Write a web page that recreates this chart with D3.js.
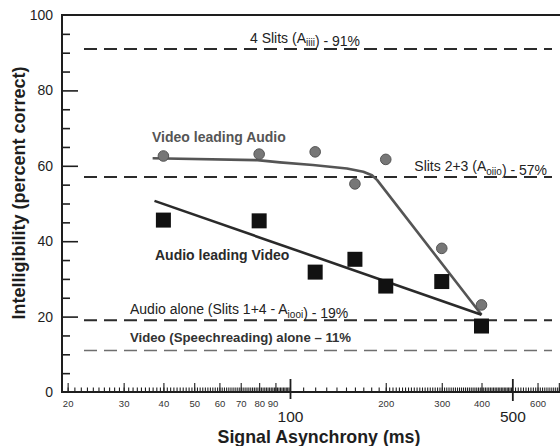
<!DOCTYPE html>
<html>
<head>
<meta charset="utf-8">
<script src="https://cdn.jsdelivr.net/npm/d3@7"></script>
<style>
  html, body { margin: 0; padding: 0; background: #fff; }
  svg { display: block; font-family: "Liberation Sans", Arial, Helvetica, sans-serif; }
</style>
</head>
<body>
<svg id="chart" width="560" height="446"></svg>
<script>
// Asynchrony conditions (ms) and mean intelligibility (% correct)
const asynchronyMs = [40, 80, 120, 160, 200, 300, 400];
const videoLeadingPct = [62.6, 63.1, 63.7, 55.2, 61.7, 38.1, 23.1];
const audioLeadingPct = [45.6, 45.4, 31.8, 35.2, 28.1, 29.3, 17.5];

// Fitted trend for each condition
const videoFitMs  = [37, 79, 93, 118, 151, 170, 181, 188, 400];
const videoFitPct = [62.0, 61.5, 60.9, 60.2, 59.3, 58.4, 57.5, 56.2, 20.5];
const audioFitMs  = [37.5, 400];
const audioFitPct = [50.7, 20.5];

// Baseline (unimodal / slit) reference levels
const refValues = [91, 57, 19, 11];

// Axis ticks
const yMajorTicks = [20, 40, 60, 80, 100];
const yAllTicks = d3.range(5, 100, 5);
const xSmallLabels = [20, 30, 40, 50, 60, 70, 80, 90, 200, 300, 400, 600];
const xBigLabels = [100, 500];
const xMinorTicks = d3.range(20, 100, 1)
  .concat(d3.range(110, 200, 10))
  .concat(d3.range(200, 500, 5))
  .concat(d3.range(510, 710, 10));
const xMediumTicks = [20, 30, 40, 50, 60, 70, 80, 90, 200, 300, 400, 600, 700];

const svg = d3.select("#chart");
const x = d3.scaleLog().domain([19.2, 706]).range([62, 560]);
const y = d3.scaleLinear().domain([0, 100]).range([392, 15]);
const ink = "#1e1e1e";
const font = "'Liberation Sans', Arial, sans-serif";

// ---- Y axis ----
const yMinor = svg.append("g").attr("transform", `translate(${x.range()[0]},0)`)
  .call(d3.axisLeft(y).tickValues(yAllTicks.filter(v => v % 20 !== 0)).tickSize(-8).tickFormat(""));
const yMajor = svg.append("g").attr("transform", `translate(${x.range()[0]},0)`)
  .call(d3.axisLeft(y).tickValues([0].concat(yMajorTicks)).tickSize(-16).tickPadding(9).tickFormat(d3.format("d")));
yMajor.selectAll(".tick line").filter(d => d === 0 || d === 100).remove();
[yMinor, yMajor].forEach(g => {
  g.select(".domain").remove();
  g.selectAll(".tick line").attr("stroke", ink).attr("stroke-width", 1.6);
});
yMajor.selectAll("text").attr("font-size", 14).attr("fill", ink).attr("font-family", font);

// ---- X axis ----
const xAxisY = y(0);
const xMinorG = svg.append("g").attr("transform", `translate(0,${xAxisY})`)
  .call(d3.axisBottom(x).tickValues(xMinorTicks).tickSize(-4.5).tickFormat(""));
const xMedG = svg.append("g").attr("transform", `translate(0,${xAxisY})`)
  .call(d3.axisBottom(x).tickValues(xMediumTicks).tickSize(-9).tickFormat(""));
const xSmallG = svg.append("g").attr("transform", `translate(0,${xAxisY})`)
  .call(d3.axisBottom(x).tickValues(xSmallLabels).tickSize(0).tickPadding(8).tickFormat(d3.format("d")));
const xBigG = svg.append("g").attr("transform", `translate(0,${xAxisY})`)
  .call(d3.axisBottom(x).tickValues(xBigLabels).tickSize(7).tickPadding(12).tickFormat(d3.format("d")));
xBigG.selectAll(".tick line").attr("y1", -13).attr("stroke-width", 1.8);
xBigG.selectAll(".tick").filter(d => d === 500).select("line").attr("y2", 9);
[xMinorG, xMedG, xSmallG, xBigG].forEach(g => {
  g.select(".domain").remove();
  g.selectAll(".tick line").attr("stroke", ink).attr("stroke-width", function() {
    return d3.select(this).attr("stroke-width") || 1.1;
  });
});
xSmallG.selectAll("text").attr("font-size", 9.5).attr("fill", "#333").attr("font-family", font);
xSmallG.selectAll(".tick").filter(d => d === 90).select("text").attr("dx", -3);
xBigG.selectAll("text").attr("font-size", 15.5).attr("fill", ink).attr("font-family", font);

// Frame: left, bottom and top rules
const [x0, x1] = x.range();
svg.append("path")
  .attr("d", `M${x1},${y(100)}H${x0}V${y(0)}H${x1}`)
  .attr("fill", "none").attr("stroke", ink).attr("stroke-width", 2);

// ---- Reference levels ----
const refStyles = [
  { stroke: "#2b2b2b", width: 2, dash: "13,7" },
  { stroke: "#2b2b2b", width: 2, dash: "13,7" },
  { stroke: "#2b2b2b", width: 2, dash: "13,7" },
  { stroke: "#6e6e6e", width: 1.5, dash: "13,7" }
];
svg.append("g").selectAll("line").data(refValues).join("line")
  .attr("x1", 84).attr("x2", 552)
  .attr("y1", d => y(d)).attr("y2", d => y(d))
  .attr("stroke", (d, i) => refStyles[i].stroke)
  .attr("stroke-width", (d, i) => refStyles[i].width)
  .attr("stroke-dasharray", (d, i) => refStyles[i].dash);

// Reference labels with subscripted condition codes
function refLabel(xPos, yPos, parts, opts = {}) {
  const t = svg.append("text").attr("x", xPos).attr("y", yPos)
    .attr("font-size", opts.size || 14).attr("fill", opts.fill || "#222")
    .attr("font-weight", opts.weight || "normal")
    .attr("text-anchor", opts.anchor || "start");
  parts.forEach(p => {
    if (p.sub) {
      t.append("tspan").attr("font-size", 10).attr("dy", 3.5).text(p.sub);
      t.append("tspan").attr("dy", -3.5).text("");
    } else {
      t.append("tspan").text(p.text);
    }
  });
  return t;
}
refLabel(250, y(refValues[0]) - 6, [{ text: "4 Slits (A" }, { sub: "iiii" }, { text: ") - 91%" }]);
refLabel(547, y(refValues[1]) - 6, [{ text: "Slits 2+3 (A" }, { sub: "oiio" }, { text: ") - 57%" }], { anchor: "end" });
refLabel(130, y(refValues[2]) - 6, [{ text: "Audio alone (Slits 1+4 - A" }, { sub: "iooi" }, { text: ") - 19%" }]);
refLabel(130, y(refValues[3]) - 9, [{ text: "Video (Speechreading) alone \u2013 11%" }], { weight: "bold", fill: "#333", size: 13.2 });

// ---- Fitted lines ----
svg.append("path")
  .datum(d3.zip(videoFitMs, videoFitPct))
  .attr("d", d3.line().x(d => x(d[0])).y(d => y(d[1]))).attr("fill", "none")
  .attr("stroke", "#555").attr("stroke-width", 2.6).attr("stroke-linejoin", "round");
svg.append("path")
  .datum(d3.zip(audioFitMs, audioFitPct))
  .attr("d", d3.line().x(d => x(d[0])).y(d => y(d[1]))).attr("fill", "none")
  .attr("stroke", "#2a2a2a").attr("stroke-width", 2.6);

// ---- Observed points ----
svg.append("g").selectAll("circle").data(d3.zip(asynchronyMs, videoLeadingPct)).join("circle")
  .attr("cx", d => x(d[0])).attr("cy", d => y(d[1])).attr("r", 5.3)
  .attr("fill", "#777").attr("stroke", "#555").attr("stroke-width", 1);
const sq = 15;
svg.append("g").selectAll("rect").data(d3.zip(asynchronyMs, audioLeadingPct)).join("rect")
  .attr("x", d => x(d[0]) - sq / 2).attr("y", d => y(d[1]) - sq / 2)
  .attr("width", sq).attr("height", sq).attr("fill", "#111");

// ---- Series labels ----
svg.append("text").attr("x", 152).attr("y", 142)
  .attr("font-size", 14).attr("font-weight", "bold").attr("fill", "#555")
  .text("Video leading Audio");
svg.append("text").attr("x", 155).attr("y", 260)
  .attr("font-size", 14).attr("font-weight", "bold").attr("fill", "#2a2a2a")
  .text("Audio leading Video");

// ---- Axis titles ----
svg.append("text").attr("x", 319).attr("y", 443)
  .attr("text-anchor", "middle").attr("font-size", 17.8).attr("font-weight", "bold").attr("fill", ink)
  .text("Signal Asynchrony (ms)");
svg.append("text")
  .attr("transform", `translate(25,193) rotate(-90)`)
  .attr("text-anchor", "middle").attr("font-size", 18).attr("font-weight", "bold").attr("fill", ink)
  .text("Intelligibility (percent correct)");
</script>
</body>
</html>
